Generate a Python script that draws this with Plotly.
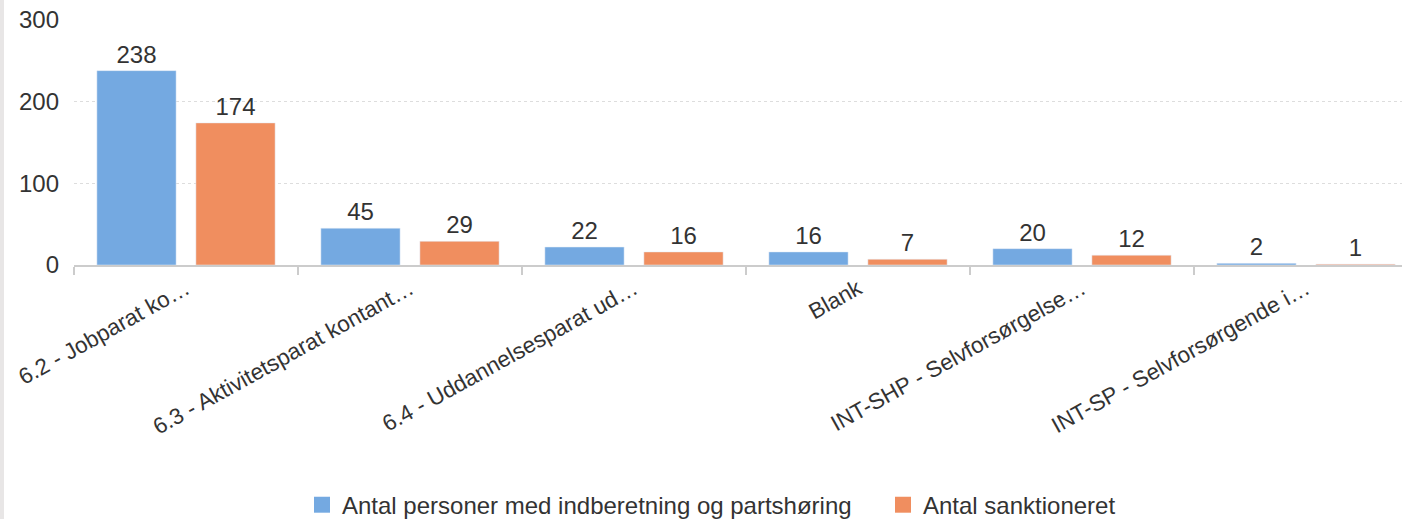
import plotly.graph_objects as go

categories = ["6.2 - Jobparat ko…", "6.3 - Aktivitetsparat kontant…", "6.4 - Uddannelsesparat ud…",
              "Blank", "INT-SHP - Selvforsørgelse…", "INT-SP - Selvforsørgende i…"]
series1_name = "Antal personer med indberetning og partshøring"
series1 = [238, 45, 22, 16, 20, 2]
series2_name = "Antal sanktioneret"
series2 = [174, 29, 16, 7, 12, 1]
y_ticks = [0, 100, 200, 300]

FONT = "Liberation Sans, Arial, sans-serif"
TXT = "#333333"
FS = 24
C1, C2 = "#74A9E1", "#F08E5F"

fig = go.Figure()
fig.add_trace(go.Bar(x=categories, y=series1, name=series1_name, marker_color=C1, showlegend=False,
                     text=series1, textposition="outside", cliponaxis=False, constraintext="none",
                     textfont=dict(size=FS, color=TXT, family=FONT)))
fig.add_trace(go.Bar(x=categories, y=series2, name=series2_name, marker_color=C2, showlegend=False,
                     text=series2, textposition="outside", cliponaxis=False, constraintext="none",
                     textfont=dict(size=FS, color=TXT, family=FONT)))
# legend entries (square swatches)
fig.add_trace(go.Scatter(x=[None], y=[None], mode="markers", name=series1_name, legend="legend",
                         marker=dict(symbol="square", size=16, color=C1)))
fig.add_trace(go.Scatter(x=[None], y=[None], mode="markers", name=series2_name, legend="legend2",
                         marker=dict(symbol="square", size=16, color=C2)))

W, H = 1402, 519
L, T, B = 74, 20, 254
PW = W - L
PH = 245.0


def px(x):
    return (x - L) / PW


leg_common = dict(orientation="h", xanchor="left", y=-0.98, yanchor="middle",
                  font=dict(size=FS, color=TXT), itemwidth=30, bgcolor="rgba(0,0,0,0)")

fig.update_layout(
    width=W, height=H,
    margin=dict(l=L, r=0, t=T, b=B, pad=0, autoexpand=False),
    paper_bgcolor="white", plot_bgcolor="white",
    font=dict(family=FONT, size=FS, color=TXT),
    barmode="group", bargap=0.116, bargroupgap=0.2,
    showlegend=True,
    legend=dict(x=px(302), **leg_common),
    legend2=dict(x=px(883), **leg_common),
    xaxis=dict(type="category", range=[-0.5, -0.5 + PW / 224.0], ticks="outside", tickson="boundaries",
               ticklen=8, tickwidth=2, tickcolor="#cccccc", showline=True, linecolor="#cccccc",
               linewidth=2, tickangle=-29, showgrid=False, automargin=False,
               tickfont=dict(size=22.5, color=TXT)),
    yaxis=dict(range=[0, 300], tickvals=y_ticks, showgrid=True, gridcolor="#dddddd",
               griddash="dot", gridwidth=1, zeroline=False, ticks="", ticklabelstandoff=14,
               automargin=False, tickfont=dict(size=FS, color=TXT)),
    shapes=[dict(type="rect", xref="paper", yref="paper", x0=-L / PW, x1=-(L - 4) / PW,
                 y0=-B / PH, y1=1 + T / PH, fillcolor="#e8e6e6", line=dict(width=0), layer="below")],
)

fig.write_html("out.html", config={"displayModeBar": False},
               post_script="document.body.style.margin='0';document.body.style.overflow='hidden';")
